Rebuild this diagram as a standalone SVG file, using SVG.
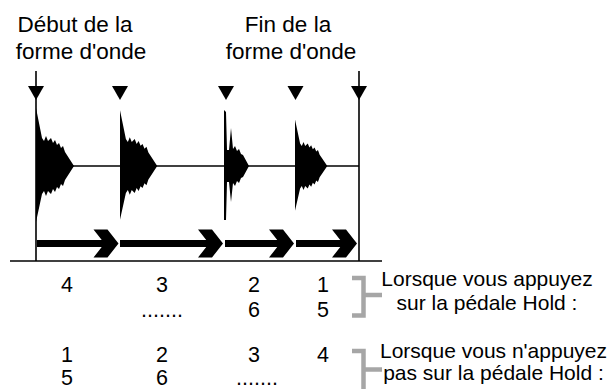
<svg xmlns="http://www.w3.org/2000/svg" xmlns:xlink="http://www.w3.org/1999/xlink" width="608" height="389" viewBox="0 0 608 389">
  <style>
    text { font-family: "Liberation Sans", Arial, sans-serif; fill: #000; }
    .title { font-size: 22.5px; text-anchor: middle; }
    .num { font-size: 21.5px; text-anchor: middle; }
    .note { font-size: 21px; text-anchor: middle; }
    .thin { stroke: #000; stroke-width: 1.6; fill: none; }
    .bar { fill: #000; }
    .brace { stroke: #a6a6a6; stroke-width: 4.5; fill: none; }
  </style>
  <defs>
    <!-- decaying burst, origin at onset on the centre line -->
    <path id="burst" d="M0,0 V-58 L6,-28 L8,-25 L10,-30 L12,-25 L15,-28 L17,-23 L19,-26 L21,-21 L23,-23 L25,-18 L27,-20 L29,-14 L38,0 L29,14 L27,20 L25,18 L23,23 L21,21 L19,26 L17,23 L15,28 L12,25 L10,30 L8,25 L6,28 L0,56 Z"/>
    <!-- chevron arrowhead, origin at the tip -->
    <path id="head" d="M-25,-14 H-11 L0,0 L-11,14 H-25 L-14,0 Z"/>
    <!-- position marker -->
    <path id="mark" d="M-8,86 H8 L0,100 Z"/>
  </defs>

  <!-- captions -->
  <g id="caption-start">
    <text class="title" x="75" y="32">Début de la</text>
    <text class="title" x="81" y="59">forme d'onde</text>
  </g>
  <g id="caption-end">
    <text class="title" x="288" y="32">Fin de la</text>
    <text class="title" x="291" y="59">forme d'onde</text>
  </g>

  <!-- waveform -->
  <g id="waveform">
    <line class="thin" x1="36" y1="166" x2="359" y2="166"/>
    <use xlink:href="#burst" transform="translate(36,166)"/>
    <use xlink:href="#burst" transform="translate(120,166) scale(0.98,0.96)"/>
    <path d="M224,166 V110 L226,112 L227,150 L229,150 L231,128 L233,149 L235,146 L237,151 L239,149 L241,154 L243,155 L249,166 L243,177 L241,178 L239,183 L237,181 L235,186 L233,183 L231,202 L229,182 L227,182 L226,220 L224,220 Z"/>
    <use xlink:href="#burst" transform="translate(295,166) scale(0.85,0.8)"/>
  </g>

  <!-- markers and guides -->
  <g id="markers">
    <line class="thin" x1="36" y1="71" x2="36" y2="261"/>
    <line class="thin" x1="359" y1="71" x2="359" y2="261"/>
    <use xlink:href="#mark" x="36"/>
    <use xlink:href="#mark" x="120"/>
    <use xlink:href="#mark" x="226"/>
    <use xlink:href="#mark" x="295.5"/>
    <use xlink:href="#mark" x="359"/>
  </g>

  <!-- playback arrows -->
  <g id="connectors">
    <rect class="bar" x="37" y="240" width="70" height="7"/>
    <use xlink:href="#head" transform="translate(118.5,243.5)"/>
    <rect class="bar" x="120" y="240" width="92" height="7"/>
    <use xlink:href="#head" transform="translate(223,243.5)"/>
    <rect class="bar" x="225" y="240" width="58" height="7"/>
    <use xlink:href="#head" transform="translate(294,243.5)"/>
    <rect class="bar" x="296" y="240" width="50" height="7"/>
    <use xlink:href="#head" transform="translate(357,243.5)"/>
  </g>

  <line class="thin" x1="10" y1="261" x2="382" y2="261"/>

  <!-- order with the pedal held -->
  <g id="order-held">
    <text class="num" x="67" y="292">4</text>
    <text class="num" x="162" y="292">3</text>
    <text class="num" x="254" y="292">2</text>
    <text class="num" x="323" y="292">1</text>
    <text class="num" x="162" y="317">.......</text>
    <text class="num" x="254" y="317">6</text>
    <text class="num" x="323" y="317">5</text>
    <path class="brace" d="M352,278 H363.5 V315.5 H352 M363.5,295 H382"/>
    <text class="note" x="487" y="286">Lorsque vous appuyez</text>
    <text class="note" x="487" y="310">sur la pédale Hold :</text>
  </g>

  <!-- order with the pedal released -->
  <g id="order-released">
    <text class="num" x="67" y="362">1</text>
    <text class="num" x="162" y="362">2</text>
    <text class="num" x="254" y="362">3</text>
    <text class="num" x="323" y="362">4</text>
    <text class="num" x="67" y="385">5</text>
    <text class="num" x="162" y="385">6</text>
    <text class="num" x="257" y="385">.......</text>
    <path class="brace" d="M352,351 H363.5 V392 M363.5,369.5 H382"/>
    <text class="note" x="493.5" y="358">Lorsque vous n'appuyez</text>
    <text class="note" x="493.5" y="380">pas sur la pédale Hold :</text>
  </g>
</svg>
